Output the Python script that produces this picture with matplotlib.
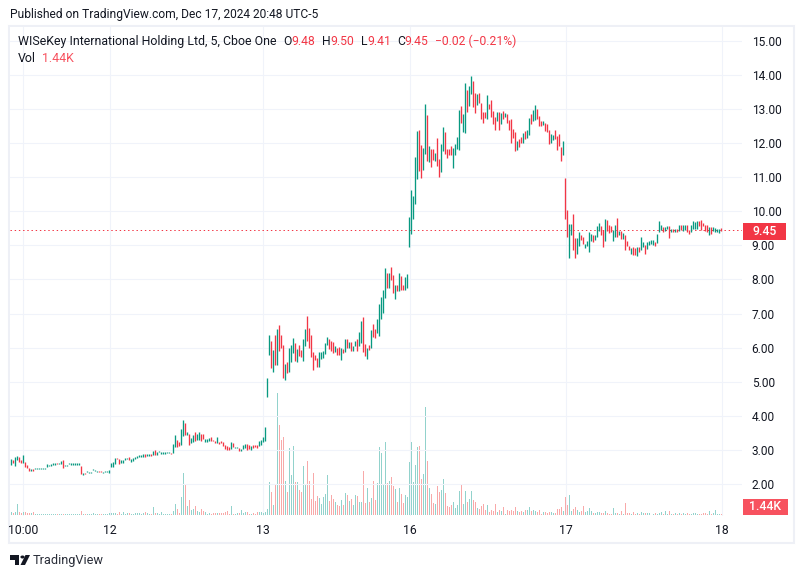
import matplotlib
matplotlib.use("Agg")
import matplotlib.pyplot as plt
from matplotlib.patches import Rectangle, Polygon, Circle
import numpy as np

plt.rcParams['font.family'] = ['Roboto', 'DejaVu Sans']

W, H = 804, 578
UP, DOWN = '#089981', '#f23645'
VOL_UP, VOL_DOWN = '#92d2cc', '#f8a9a9'
TXT = '#131722'
GRID = '#f0f3fa'

# ---- price data (section per trading stretch) ----
high_a = [2.74,2.71,2.80,2.82,2.78,2.69,2.84,2.66,2.56,2.47,2.45,2.44,
          2.46,2.46,2.46,2.46,2.46,2.46,
          2.58,2.56,2.58,2.61,2.61,2.61,2.63,2.68,2.71,2.56,2.56,2.61,
          2.61,2.61,2.61,2.61,2.61,
          2.53,2.33,2.31,2.39,2.35,2.35,2.45,2.41,2.39,2.38,2.37,2.36,2.38,2.38,2.40,
          2.61,2.66,2.75,2.75,2.73,2.71,2.71,2.75,2.76,2.78,2.73,2.75,2.80,
          2.82,2.84,2.85,2.87,2.87,2.88,2.89,2.87,2.98,3.00,2.95,2.97,2.95,2.94,2.95,2.94,2.94,2.92,
          3.18,3.44,3.29,3.23,3.62,3.88,3.80,3.53,3.47,3.34,3.44,3.53,3.47,3.53,3.47,3.46,3.32,3.32,
          3.34,3.39,3.29,3.27,3.39,3.24,3.27,3.23,3.15,3.11,3.10,3.23,3.20,3.10,3.10,3.06,3.02,3.15,
          3.18,3.16,3.14,3.12,3.14,3.15,3.15,3.27,3.29,3.39,3.67]
low_a = [2.56,2.63,2.53,2.71,2.65,2.61,2.63,2.49,2.46,2.38,2.39,2.38,
         2.44,2.44,2.44,2.44,2.44,2.44,
         2.51,2.53,2.54,2.57,2.57,2.58,2.59,2.58,2.48,2.53,2.54,2.58,
         2.57,2.57,2.57,2.57,2.57,
         2.30,2.27,2.28,2.35,2.32,2.32,2.41,2.38,2.36,2.35,2.34,2.32,2.35,2.35,2.32,
         2.49,2.51,2.59,2.73,2.60,2.63,2.63,2.69,2.73,2.71,2.66,2.68,2.73,
         2.76,2.80,2.80,2.80,2.79,2.82,2.83,2.82,2.84,2.86,2.86,2.93,2.88,2.88,2.88,2.90,2.91,2.88,
         2.90,3.08,3.10,3.12,3.15,3.41,3.44,3.43,3.15,3.20,3.23,3.25,3.29,3.29,3.25,3.32,3.24,3.24,
         3.25,3.25,3.25,3.20,3.20,3.18,3.20,3.12,3.04,3.00,3.00,3.03,3.10,3.05,3.05,2.98,2.98,3.02,
         3.07,3.00,3.02,3.00,3.05,3.08,3.07,3.12,3.15,3.22,3.27]
dir_a = ("uduuddudddud" "uuuuuu" "uuuuuduuduuu" "uuuuu" "duduuuuuudduuuu" "uuuddu" "uuud" "uuu"
         "uuuuduududuuuuuuud"
         "uuddu" "ududu" "uduud" "duuud" "ddudd" "ddddu" "duudu" "uuddu" "ddduu" "uu")

high_b = [5.10,6.38,6.20,5.94,6.38,6.56,6.65,6.38,6.09,5.53,5.59,6.00,6.09,6.29,6.15,5.97,6.09,5.94,
          6.26,6.56,6.94,6.59,6.38,5.88,5.79,5.70,5.88,5.88,5.91,6.15,6.32,6.24,6.20,6.18,6.06,6.00,
          6.03,6.00,5.97,6.24,6.24,6.18,6.18,6.06,6.20,6.24,6.47,6.79,6.91,6.12,6.00,6.09,6.53,6.68,
          6.56,6.85,7.29,7.50,7.68,8.35,8.20,8.18,8.38,8.12,7.85,7.85,8.18,8.09,7.85,8.06,8.15]
low_b = [4.54,5.79,5.41,5.29,5.50,5.50,5.91,6.00,5.12,5.06,5.27,5.29,5.59,5.85,5.62,5.59,5.76,5.74,
         5.62,6.06,6.20,6.00,5.74,5.35,5.65,5.44,5.44,5.68,5.70,5.82,6.09,5.97,5.91,5.85,5.88,5.79,
         5.79,5.65,5.85,5.88,6.00,6.00,5.91,5.91,6.06,5.91,6.06,6.15,5.88,5.76,5.68,5.94,6.00,6.32,
         6.29,6.44,6.35,6.85,7.03,7.47,7.74,7.74,7.97,7.59,7.44,7.65,7.65,7.70,7.68,7.70,7.74]
dir_b = ("uudud" "udddu" "duuud" "udduu" "ddddd" "duuuu" "udddu" "ddudu" "duduu" "duudd"
         "ududd" "uuuuu" "duddu" "duddu" "u")

high_c = [9.82,10.62,10.44,11.59,12.35,12.38,11.94,11.85,13.15,12.82,11.91,11.82,11.82,11.70,12.15,
          11.53,11.97,12.47,12.32,11.82,11.82,11.91,11.85,11.97,12.18,12.97,13.09,12.85,13.76,13.56,
          13.68,13.97,13.82,13.47,13.44,13.47,13.18,12.91,12.91,13.41,13.15,13.26,12.94,12.76,12.91,
          12.91,12.88,12.94,12.88,12.85,12.68,12.71,12.41,12.32,12.06,12.12,12.18,12.29,12.35,12.38,
          12.74,12.85,12.97,13.12,13.00,12.79,12.65,12.65,12.59,12.56,12.38,12.26,12.24,12.38,12.21,
          12.26,11.88,12.06]
low_c = [8.94,9.32,9.76,10.20,10.94,11.18,10.97,11.20,11.68,11.47,11.44,11.29,11.50,11.47,11.32,
         11.00,11.15,11.76,11.68,11.56,11.65,11.65,11.26,11.65,11.82,11.79,12.59,12.32,12.29,12.91,
         13.09,13.44,13.06,12.88,13.12,13.18,12.70,12.59,12.74,12.70,13.00,12.76,12.56,12.38,12.65,
         12.38,12.56,12.70,12.76,12.59,12.38,12.00,12.15,11.76,11.79,11.88,12.00,12.00,12.12,12.15,
         12.24,12.56,12.65,12.68,12.70,12.50,12.50,12.53,12.35,12.32,11.97,12.00,12.09,12.12,11.79,
         11.91,11.47,11.65]
dir_c = ("uuuuu" "dduud" "uddud" "duudd" "dduuu" "uduud" "uuddu" "ddddu" "ddddu" "dudud"
         "ddddu" "ddudu" "uduud" "ddudd" "duudd" "ddu")

high_d = [10.97,10.03,9.62,9.62,9.91,9.21,9.21,9.38,9.29,9.26,9.05,9.12,9.38,9.32,9.29,9.29,9.56,9.65,
          9.56,9.44,9.76,9.74,9.59,9.56,9.44,9.59,9.79,9.41,9.41,9.35,9.29,9.12,8.97,8.91,8.94,8.91,
          8.94,8.94,9.26,9.09,9.00,9.09,9.12,9.15,9.15,9.09,9.32,9.71,9.59,9.53,9.53,9.56,9.56,9.47,
          9.47,9.47,9.47,9.59,9.59,9.59,9.59,9.59,9.44,9.59,9.71,9.68,9.71,9.71,9.74,9.65,9.59,9.59,
          9.53,9.53,9.53,9.50,9.47,9.47,9.50]
low_d = [9.76,9.24,8.62,9.29,8.85,8.62,8.74,8.97,9.15,9.03,8.93,8.97,8.82,9.12,9.09,9.15,9.24,9.41,
         9.29,8.94,9.12,9.41,9.35,9.38,9.12,9.26,9.26,9.29,9.18,9.18,8.85,8.97,8.85,8.74,8.71,8.71,
         8.68,8.82,8.85,8.94,8.76,8.88,9.00,9.03,9.00,8.97,9.06,9.38,9.44,9.38,9.41,9.47,9.21,9.38,
         9.38,9.40,9.40,9.41,9.44,9.41,9.44,9.38,9.34,9.38,9.47,9.47,9.47,9.56,9.44,9.56,9.41,9.38,
         9.29,9.32,9.41,9.38,9.38,9.35,9.41]
dir_d = ("dduud" "duudd" "uuuud" "uuudd" "udddu" "ududu" "dddud" "duduu" "duuuu" "duuud"
         "uudud" "ududu" "udduu" "uuddd" "ddudu" "uuud")

# ---- volume (thousands) ----
vol_a = [3,2,3,11,3,2,3,3,2,2,2,3] + [1]*23 + [4,1,1,1,1,1,2,1,1,1,1,1,1,1,
         2,2,2,2,1,3,1,3,1,2,2,1,1,2,
         2,2,1,2,3,2,1,1,8,2,2,1,3,1,1,1,1,1,4,11,6,2,18,42,30,9,15,5,6,9,4,3,6,4,3,1,2,1,2,2,2,2,2,2,
         3,4,1,9,1,1,2,2,5,2,3,3,1,1,2,1,3,3,3,2,3]
vol_b = [6,33,23,10,30,122,90,75,78,34,23,67,40,69,33,33,25,23,49,30,54,34,16,42,14,19,17,11,18,21,40,
         14,20,16,13,10,9,15,10,22,20,14,16,10,20,19,13,13,44,12,27,13,17,34,15,32,68,62,31,73,32,34,
         38,29,26,13,27,21,12,20,18]
vol_c = [53,73,33,50,68,69,36,41,108,54,27,21,12,11,29,23,25,36,22,9,8,10,13,7,10,24,31,11,24,13,
         16,24,15,13,7,6,9,11,5,10,3,5,4,11,3,5,4,8,1,5,4,5,4,8,4,3,4,3,5,5,8,4,5,4,3,5,1,3,3,2,
         3,3,2,2,6,6,8,4]
vol_d = [18,10,20,4,6,8,5,3,4,9,3,4,7,4,2,2,3,3,2,2,4,2,1,1,7,2,2,1,4,1,12,2,2,1,3,1,2,1,3,2,
         2,2,2,0.5,1,2,1,2,3,1,4,1,4,1,1,2,1,2,1,2,1,2,1,1,2,2,1,1,1,2,2,1,4,1,2,5,1,1,1]

price_ticks = list(range(2, 16))
time_tick_bars = [5.75, 49.25, 125.75, 199.25, 277.25, 355.25]
time_tick_labels = ['10:00', '12', '13', '16', '17', '18']
last_price = 9.45

assert len(high_a) == len(low_a) == len(dir_a) == len(vol_a), (len(high_a), len(low_a), len(dir_a), len(vol_a))
assert len(high_b) == len(low_b) == len(dir_b) == len(vol_b), (len(high_b), len(low_b), len(dir_b), len(vol_b))
assert len(high_c) == len(low_c) == len(dir_c) == len(vol_c), (len(high_c), len(low_c), len(dir_c), len(vol_c))
assert len(high_d) == len(low_d) == len(dir_d) == len(vol_d), (len(high_d), len(low_d), len(dir_d), len(vol_d))

high = np.array(high_a + high_b + high_c + high_d)
low = np.array(low_a + low_b + low_c + low_d)
dirs = dir_a + dir_b + dir_c + dir_d
vol = np.array(vol_a + vol_b + vol_c + vol_d, dtype=float)
n = len(high)
idx = np.arange(n)
is_up = np.array([c == 'u' for c in dirs])

fig = plt.figure(figsize=(W/100, H/100), dpi=100, facecolor='white')

def fx(x): return x / W
def fy(y): return 1 - y / H

# outer frame
fig.add_artist(Rectangle((fx(9), fy(543)), fx(794-9), (543-26)/H, transform=fig.transFigure,
                         fill=False, edgecolor='#eef0f6', linewidth=1.5))

L, R, T, B = 10, 742, 27, 516
axv = fig.add_axes([fx(L), fy(B), (R-L)/W, (B-T)/H])
ax = axv.twinx()
ax.set_zorder(2); axv.set_zorder(1)
ax.patch.set_visible(False)

s = 2.0
x0 = 11.5
xlim = ((L - x0) / s, (R - x0) / s)
for a in (ax, axv):
    a.set_xlim(*xlim)
    for sp in a.spines.values():
        sp.set_visible(False)

# pixel -> value: 2.00 at y=484, 34.09 px per unit
ax.set_ylim(2 + (484 - B) / 34.09, 2 + (484 - T) / 34.09)
axv.set_ylim(-1, B - T - 1)
axv.set_yticks([])

axv.set_xticks(time_tick_bars)
axv.set_xticklabels(time_tick_labels, fontsize=8.8, color=TXT)
axv.tick_params(axis='x', length=0, pad=5.5)
axv.grid(axis='x', color=GRID, linewidth=0.8)
axv.set_axisbelow(True)

ax.set_yticks(price_ticks)
ax.set_yticklabels([f'{p:.2f}' for p in price_ticks], fontsize=8.6, color=TXT)
ax.tick_params(axis='y', length=0, pad=7)
ax.grid(axis='y', color=GRID, linewidth=0.8)
ax.set_axisbelow(True)

axv.bar(idx[is_up], vol[is_up], width=0.5, color=VOL_UP, linewidth=0)
axv.bar(idx[~is_up], vol[~is_up], width=0.5, color=VOL_DOWN, linewidth=0)

ax.vlines(idx[is_up], low[is_up], high[is_up], colors=UP, linewidth=0.95, zorder=3)
ax.vlines(idx[~is_up], low[~is_up], high[~is_up], colors=DOWN, linewidth=0.95, zorder=3)
ax.axhline(last_price, color=DOWN, linewidth=0.72, linestyle=(0, (1.4, 2.8)), zorder=2.5)

# value tags
def tag(x0_, x1_, y0_, y1_, label, col):
    fig.add_artist(Rectangle((fx(x0_), fy(y1_)), (x1_-x0_)/W, (y1_-y0_)/H, transform=fig.transFigure,
                             facecolor=col, edgecolor='none', zorder=5))
    fig.text(fx((x0_+x1_)/2), fy((y0_+y1_)/2), label, color='white', fontsize=8.8, fontweight='medium',
             ha='center', va='center', zorder=6)

tag(743, 786, 223, 239.5, f'{last_price:.2f}', DOWN)
tag(743, 788, 499, 515, '1.44K', '#f7525f')

# header
def t(x, y, s_, color=TXT, size=8.9):
    fig.text(fx(x), fy(y), s_, color=color, fontsize=size, ha='left', va='center')

t(10, 14.5, 'Published on TradingView.com, Dec 17, 2024 20:48 UTC-5', size=8.63)
t(18, 41.5, 'WISeKey International Holding Ltd, 5, Cboe One')
for x, s_, c in [(283, 'O', TXT), (291.5, '9.48', DOWN), (322, 'H', TXT), (330, '9.50', DOWN),
                 (361, 'L', TXT), (367, '9.41', DOWN), (397, 'C', TXT), (404, '9.45', DOWN),
                 (435, '\u22120.02 (\u22120.21%)', DOWN)]:
    t(x, 41.5, s_, c, 8.7)
t(18, 58.5, 'Vol')
t(42, 58.5, '1.44K', '#f7525f')

# brand
def P(pts):
    return Polygon([(fx(a), fy(b)) for a, b in pts], closed=True, transform=fig.transFigure,
                   facecolor=TXT, edgecolor='none')
fig.add_artist(P([(10, 555), (19.5, 555), (19.5, 565), (15, 565), (15, 559.5), (10, 559.5)]))
fig.add_artist(P([(25.5, 555), (30, 555), (25, 565), (20.5, 565)]))
fig.add_artist(Circle((fx(22.5), fy(557)), 2.1/W, transform=fig.transFigure, facecolor=TXT, edgecolor='none'))
fig.text(fx(33), fy(560.5), 'TradingView', color='#2a2e39', fontsize=9.2, ha='left', va='center')

fig.savefig('out.png', dpi=100, facecolor='white')
